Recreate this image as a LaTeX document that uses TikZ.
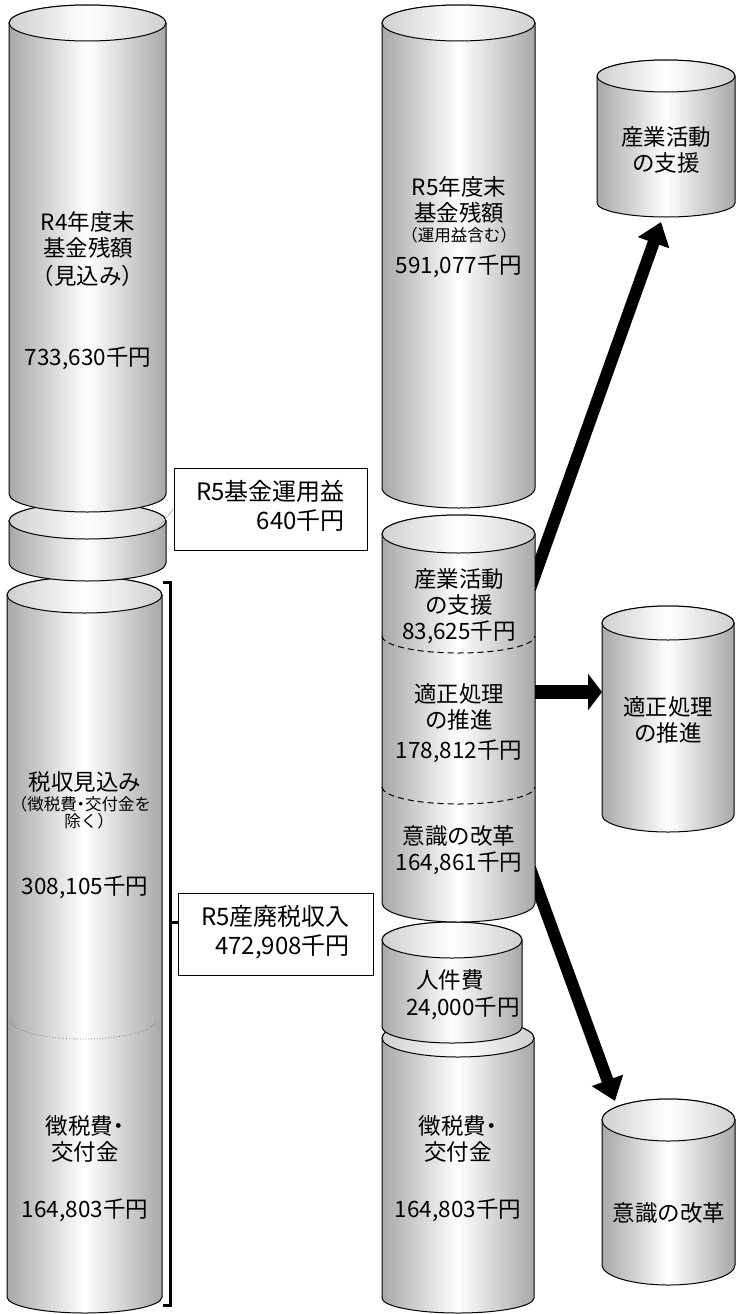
\documentclass[tikz,border=0pt]{standalone}
\usepackage{fontspec}
\setmainfont[RawFeature=+halt]{Noto Sans CJK JP}
\usepackage{tikz}
\usetikzlibrary{arrows.meta}
\definecolor{drumgray}{HTML}{A8A8A8}
\tikzset{
    drumbody/.style={draw, line width=1pt, left color=drumgray, right color=drumgray, middle color=white},
    drumtop/.style={draw, line width=1pt, left color=drumgray!55, right color=drumgray!55, middle color=white},
    txt/.style={align=center, inner sep=0pt, font=\fontsize{22.5}{26}\selectfont},
    smalltxt/.style={align=center, inner sep=0pt, font=\fontsize{16.5}{17}\selectfont},
    infobox/.style={draw, line width=1pt, inner sep=0pt, fill=white, font=\fontsize{24}{28}\selectfont},
    fat/.style={line width=12pt, -{Triangle[length=22pt,width=32pt]}},
    bracket/.style={line width=3pt},
    leader/.style={draw=gray!70, line width=0.6pt}
}
% cx, rx, top y, bottom y, top ry, bottom ry
\newcommand{\drum}[6]{
    \path[drumbody] (#1-#2,#3) -- (#1-#2,#4)
        arc[start angle=180, end angle=0, x radius=#2, y radius=#6]
        -- (#1+#2,#3)
        arc[start angle=0, end angle=-180, x radius=#2, y radius=#5] -- cycle;
    \path[drumtop] (#1,#3) ellipse[x radius=#2, y radius=#5];
}

\begin{document}
\begin{tikzpicture}[x=1pt, y=-1pt]
    \useasboundingbox (0,0) rectangle (736,1314);

    \coordinate (A1S) at (530,589); \coordinate (A1E) at (661,222);
    \coordinate (A2S) at (530,692); \coordinate (A2E) at (602,692);
    \coordinate (A3S) at (530,868); \coordinate (A3E) at (615,1101);
    \draw[fat] (A1S) -- (A1E);
    \draw[line width=14pt, -{Triangle[length=14pt,width=36pt]}] (A2S) -- (A2E);
    \draw[fat] (A3S) -- (A3E);

    % left column
    \drum{84.5}{77.5}{595}{1297}{18}{16}
    \drum{87.5}{78.5}{521}{563}{18}{18}
    \drum{87.5}{78.5}{23}{494}{18}{18}
    \draw[gray, dotted, line width=0.8pt] (10,1020) arc[start angle=180, end angle=0, x radius=73, y radius=19];

    % right column
    \drum{458}{76}{1038}{1298}{19}{15}
    \drum{452}{70}{940}{1027}{18}{16}
    \drum{458.5}{76.5}{534}{903}{19}{19}
    \drum{458.5}{76.5}{23}{488}{18}{20}
    \draw[dashed, line width=1pt, dash pattern=on 6pt off 4pt] (382,636) arc[start angle=180, end angle=0, x radius=76.5, y radius=17];
    \draw[dashed, line width=1pt, dash pattern=on 6pt off 4pt] (382,787) arc[start angle=180, end angle=0, x radius=76.5, y radius=17];

    % targets
    \drum{666}{69}{76}{203}{16}{14}
    \drum{668}{66}{623}{815}{17}{17}
    \drum{668.5}{66.5}{1120}{1265}{21}{20}

    \node[txt] (R4TXT) at (88,235) {R4年度末\\基金残額};
    \node[txt] (R4NOTE) at (88,276) {（見込み）};
    \node[txt] (R4VAL) at (88,358) {733,630千円};

    \node[txt] (R5TXT) at (459,200) {R5年度末\\基金残額};
    \node[smalltxt] (R5NOTE) at (459,235) {（運用益含む）};
    \node[txt] (R5VAL) at (459,266) {591,077千円};

    \node[txt] (TAXTXT) at (85,782) {税収見込み};
    \node[smalltxt] (TAXNOTE) at (85,813) {（徴税費・交付金を\\除く）};
    \node[txt] (TAXVAL) at (85,887) {308,105千円};
    \node[txt] (COLTXT) at (85,1139) {徴税費・\\交付金};
    \node[txt] (COLVAL) at (85,1210) {164,803千円};

    \node[txt] (SUPTXT) at (459,606) {産業活動\\の支援\\83,625千円};
    \node[txt] (PROCTXT) at (459,707) {適正処理\\の推進};
    \node[txt] (PROCVAL) at (459,751) {178,812千円};
    \node[txt] (AWTXT) at (459,850) {意識の改革\\164,861千円};
    \node[txt] (STAFF) at (450,980) {人件費};
    \node[txt] (STAFFVAL) at (463,1008) {24,000千円};
    \node[txt] (RCOLTXT) at (458,1139) {徴税費・\\交付金};
    \node[txt] (RCOLVAL) at (458,1210) {164,803千円};

    \node[txt] (T1) at (666,150) {産業活動\\の支援};
    \node[txt] (T2) at (668,720) {適正処理\\の推進};
    \node[txt] (T3) at (669,1213) {意識の改革};

    \node[infobox, minimum width=193pt, minimum height=82pt] (FUNDBOX) at (270.5,509)
        {\begin{tabular}{@{}l@{}}R5基金運用益\\\multicolumn{1}{@{}r@{}}{640千円}\end{tabular}};
    \node[infobox, minimum width=195pt, minimum height=82pt] (TAXBOX) at (275.5,934)
        {\begin{tabular}{@{}l@{}}R5産廃税収入\\\multicolumn{1}{@{}r@{}}{472,908千円}\end{tabular}};

    \coordinate (FUNDPT) at (152,535);
    \draw[leader] (FUNDBOX.west) -- (FUNDPT);

    \coordinate (BRTOP) at (163,582);
    \coordinate (BRBOT) at (163,1305);
    \coordinate (BRMID) at (170,922);
    \draw[bracket] (BRTOP) -- ++(7,0) |- (BRBOT);
    \draw[bracket] (BRMID) -- (BRMID -| TAXBOX.west);
\end{tikzpicture}
\end{document}
